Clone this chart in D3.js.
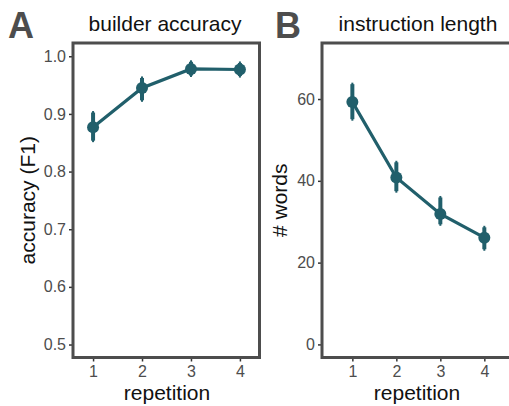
<!DOCTYPE html>
<html>
<head>
<meta charset="utf-8">
<script src="https://cdn.jsdelivr.net/npm/d3@7"></script>
<style>
  body { margin: 0; background: #fff; }
  text { font-family: "Liberation Sans", Arial, sans-serif; }
</style>
</head>
<body>
<svg id="chart" width="509" height="406"></svg>
<script>
// data
const repetitions = [1, 2, 3, 4];
const accuracyMean = [0.877, 0.945, 0.978, 0.977];
const accuracyLow = [0.851, 0.921, 0.964, 0.963];
const accuracyHigh = [0.905, 0.965, 0.993, 0.991];
const wordsMean = [59.3, 40.8, 31.9, 26.1];
const wordsLow = [54.7, 37.1, 29.0, 22.9];
const wordsHigh = [64.0, 44.9, 36.3, 29.0];
const accuracyTicks = [0.5, 0.6, 0.7, 0.8, 0.9, 1.0];
const wordsTicks = [0, 20, 40, 60];

const teal = '#215f6b';
const axisGrey = '#4d4d4d';

const svg = d3.select('#chart');

function panel(opts) {
  const { left, right, top, bottom, xDomain, yDomain, yTicks, yFormat,
          mean, low, high, title, titleX, letter, letterX, yLabel, yLabelX,
          xLabelX, fullBox } = opts;

  const x = d3.scaleLinear().domain(xDomain).range([left, right]);
  const y = d3.scaleLinear().domain(yDomain).range([bottom, top]);

  const g = svg.append('g');

  // y axis
  const yAxis = g.append('g')
    .attr('transform', `translate(${left},0)`)
    .call(d3.axisLeft(y).tickValues(yTicks).tickFormat(yFormat).tickSize(4).tickPadding(3));
  yAxis.select('.domain').remove();
  yAxis.selectAll('.tick line').attr('stroke', '#333').attr('stroke-width', 1.5);
  yAxis.selectAll('.tick text').attr('fill', axisGrey).attr('font-size', 16)
    .style('font-family', '"Liberation Sans", Arial, sans-serif');

  // x axis
  const xAxis = g.append('g')
    .attr('transform', `translate(0,${bottom})`)
    .call(d3.axisBottom(x).tickValues(repetitions).tickFormat(d3.format('d')).tickSize(4).tickPadding(4));
  xAxis.select('.domain').remove();
  xAxis.selectAll('.tick line').attr('stroke', '#333').attr('stroke-width', 1.5);
  xAxis.selectAll('.tick text').attr('fill', axisGrey).attr('font-size', 16)
    .style('font-family', '"Liberation Sans", Arial, sans-serif');

  // border
  if (fullBox) {
    g.append('rect')
      .attr('x', left).attr('y', top)
      .attr('width', right - left).attr('height', bottom - top)
      .attr('fill', 'none').attr('stroke', axisGrey).attr('stroke-width', 3);
  } else {
    g.append('path')
      .attr('d', `M${right + 10},${top}H${left}V${bottom}H${right + 10}`)
      .attr('fill', 'none').attr('stroke', axisGrey).attr('stroke-width', 3);
  }

  const pts = repetitions.map((r, i) => ({ r, m: mean[i], lo: low[i], hi: high[i] }));

  // error bars
  g.selectAll('.err')
    .data(pts)
    .join('line')
    .attr('x1', d => x(d.r)).attr('x2', d => x(d.r))
    .attr('y1', d => y(d.lo)).attr('y2', d => y(d.hi))
    .attr('stroke', teal).attr('stroke-width', 2);
  g.selectAll('.errThick')
    .data(pts)
    .join('line')
    .attr('x1', d => x(d.r)).attr('x2', d => x(d.r))
    .attr('y1', d => y(d.lo) - 1.5).attr('y2', d => y(d.hi) + 1.5)
    .attr('stroke', teal).attr('stroke-width', 4);

  // line
  g.append('path')
    .datum(pts)
    .attr('d', d3.line().x(d => x(d.r)).y(d => y(d.m)))
    .attr('fill', 'none').attr('stroke', teal).attr('stroke-width', 3.2);

  // points
  g.selectAll('circle')
    .data(pts)
    .join('circle')
    .attr('cx', d => x(d.r)).attr('cy', d => y(d.m))
    .attr('r', 6).attr('fill', teal);

  // titles
  g.append('text')
    .attr('x', titleX)
    .attr('y', 31)
    .attr('text-anchor', 'middle')
    .attr('font-size', 21)
    .attr('fill', '#111')
    .text(title);

  g.append('text')
    .attr('x', letterX).attr('y', 38)
    .attr('font-size', 36).attr('font-weight', 'bold')
    .attr('fill', axisGrey)
    .text(letter);

  g.append('text')
    .attr('transform', `translate(${yLabelX},${(top + bottom) / 2}) rotate(-90)`)
    .attr('text-anchor', 'middle')
    .attr('font-size', 21)
    .attr('fill', '#111')
    .text(yLabel);

  g.append('text')
    .attr('x', xLabelX)
    .attr('y', 400)
    .attr('text-anchor', 'middle')
    .attr('font-size', 21)
    .attr('fill', '#111')
    .text('repetition');
}

panel({
  left: 73, right: 259.5, top: 43, bottom: 357.5,
  xDomain: [0.59, 4.4], yDomain: [0.4775, 1.023],
  yTicks: accuracyTicks, yFormat: d3.format('.1f'),
  mean: accuracyMean, low: accuracyLow, high: accuracyHigh,
  title: 'builder accuracy', titleX: 165, letter: 'A', letterX: 8,
  yLabel: 'accuracy (F1)', yLabelX: 35, xLabelX: 167, fullBox: true
});

panel({
  left: 322, right: 527, top: 43, bottom: 357.5,
  xDomain: [0.31, 4.97], yDomain: [-3.2, 73.7],
  yTicks: wordsTicks, yFormat: d3.format('d'),
  mean: wordsMean, low: wordsLow, high: wordsHigh,
  title: 'instruction length', titleX: 418, letter: 'B', letterX: 275,
  yLabel: '# words', yLabelX: 287, xLabelX: 417, fullBox: false
});
</script>
</body>
</html>
